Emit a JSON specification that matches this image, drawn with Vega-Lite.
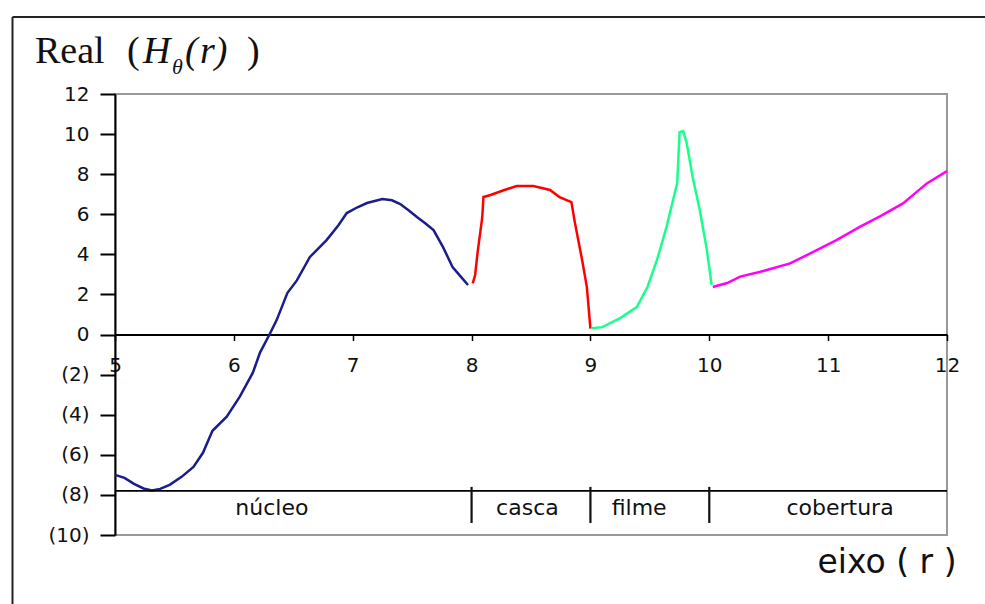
{
  "$schema": "https://vega.github.io/schema/vega-lite/v6.json",
  "width": 832,
  "height": 441,
  "autosize": {"type": "none"},
  "padding": {"left": 115, "top": 94, "right": 38, "bottom": 69},
  "background": "white",
  "config": {
    "view": {"stroke": "#999999", "strokeWidth": 2},
    "axis": {"grid": false, "title": null, "labelFont": "DejaVu Sans", "labelFontSize": 20, "labelColor": "#111111", "domainColor": "#000000", "tickColor": "#000000", "labelOverlap": false, "labelFlush": false}
  },
  "datasets": {
    "curve": [
      {"r": 5.00, "H": -7.00, "region": "núcleo"},
      {"r": 5.08, "H": -7.15, "region": "núcleo"},
      {"r": 5.16, "H": -7.45, "region": "núcleo"},
      {"r": 5.24, "H": -7.68, "region": "núcleo"},
      {"r": 5.31, "H": -7.78, "region": "núcleo"},
      {"r": 5.38, "H": -7.70, "region": "núcleo"},
      {"r": 5.46, "H": -7.50, "region": "núcleo"},
      {"r": 5.56, "H": -7.10, "region": "núcleo"},
      {"r": 5.66, "H": -6.60, "region": "núcleo"},
      {"r": 5.74, "H": -5.90, "region": "núcleo"},
      {"r": 5.82, "H": -4.80, "region": "núcleo"},
      {"r": 5.94, "H": -4.10, "region": "núcleo"},
      {"r": 6.05, "H": -3.10, "region": "núcleo"},
      {"r": 6.16, "H": -1.90, "region": "núcleo"},
      {"r": 6.22, "H": -0.90, "region": "núcleo"},
      {"r": 6.30, "H": 0.00, "region": "núcleo"},
      {"r": 6.36, "H": 0.72, "region": "núcleo"},
      {"r": 6.45, "H": 2.07, "region": "núcleo"},
      {"r": 6.53, "H": 2.70, "region": "núcleo"},
      {"r": 6.64, "H": 3.87, "region": "núcleo"},
      {"r": 6.78, "H": 4.71, "region": "núcleo"},
      {"r": 6.88, "H": 5.45, "region": "núcleo"},
      {"r": 6.95, "H": 6.06, "region": "núcleo"},
      {"r": 7.04, "H": 6.35, "region": "núcleo"},
      {"r": 7.12, "H": 6.56, "region": "núcleo"},
      {"r": 7.25, "H": 6.76, "region": "núcleo"},
      {"r": 7.33, "H": 6.70, "region": "núcleo"},
      {"r": 7.40, "H": 6.51, "region": "núcleo"},
      {"r": 7.47, "H": 6.20, "region": "núcleo"},
      {"r": 7.54, "H": 5.86, "region": "núcleo"},
      {"r": 7.61, "H": 5.55, "region": "núcleo"},
      {"r": 7.68, "H": 5.21, "region": "núcleo"},
      {"r": 7.76, "H": 4.36, "region": "núcleo"},
      {"r": 7.84, "H": 3.37, "region": "núcleo"},
      {"r": 7.90, "H": 2.95, "region": "núcleo"},
      {"r": 7.97, "H": 2.47, "region": "núcleo"},
      {"r": 8.01, "H": 2.55, "region": "casca"},
      {"r": 8.03, "H": 2.97, "region": "casca"},
      {"r": 8.05, "H": 4.06, "region": "casca"},
      {"r": 8.09, "H": 5.86, "region": "casca"},
      {"r": 8.10, "H": 6.86, "region": "casca"},
      {"r": 8.16, "H": 6.96, "region": "casca"},
      {"r": 8.27, "H": 7.20, "region": "casca"},
      {"r": 8.38, "H": 7.41, "region": "casca"},
      {"r": 8.52, "H": 7.41, "region": "casca"},
      {"r": 8.66, "H": 7.21, "region": "casca"},
      {"r": 8.74, "H": 6.86, "region": "casca"},
      {"r": 8.84, "H": 6.61, "region": "casca"},
      {"r": 8.87, "H": 5.56, "region": "casca"},
      {"r": 8.93, "H": 3.72, "region": "casca"},
      {"r": 8.97, "H": 2.37, "region": "casca"},
      {"r": 9.00, "H": 0.30, "region": "casca"},
      {"r": 9.01, "H": 0.32, "region": "filme"},
      {"r": 9.10, "H": 0.37, "region": "filme"},
      {"r": 9.25, "H": 0.82, "region": "filme"},
      {"r": 9.39, "H": 1.37, "region": "filme"},
      {"r": 9.48, "H": 2.37, "region": "filme"},
      {"r": 9.56, "H": 3.72, "region": "filme"},
      {"r": 9.64, "H": 5.36, "region": "filme"},
      {"r": 9.73, "H": 7.56, "region": "filme"},
      {"r": 9.75, "H": 10.10, "region": "filme"},
      {"r": 9.78, "H": 10.15, "region": "filme"},
      {"r": 9.81, "H": 9.55, "region": "filme"},
      {"r": 9.86, "H": 7.86, "region": "filme"},
      {"r": 9.92, "H": 6.21, "region": "filme"},
      {"r": 9.98, "H": 4.21, "region": "filme"},
      {"r": 10.02, "H": 2.47, "region": "filme"},
      {"r": 10.03, "H": 2.37, "region": "cobertura"},
      {"r": 10.15, "H": 2.57, "region": "cobertura"},
      {"r": 10.26, "H": 2.89, "region": "cobertura"},
      {"r": 10.43, "H": 3.13, "region": "cobertura"},
      {"r": 10.68, "H": 3.55, "region": "cobertura"},
      {"r": 10.85, "H": 4.05, "region": "cobertura"},
      {"r": 11.07, "H": 4.71, "region": "cobertura"},
      {"r": 11.27, "H": 5.38, "region": "cobertura"},
      {"r": 11.44, "H": 5.91, "region": "cobertura"},
      {"r": 11.63, "H": 6.54, "region": "cobertura"},
      {"r": 11.83, "H": 7.54, "region": "cobertura"},
      {"r": 12.00, "H": 8.15, "region": "cobertura"}
    ],
    "regions": [
      {"region": "núcleo", "r": 6.32},
      {"region": "casca", "r": 8.47},
      {"region": "filme", "r": 9.41},
      {"region": "cobertura", "r": 11.10}
    ],
    "seps": [{"r": 8}, {"r": 9}, {"r": 10}]
  },
  "layer": [
    {
      "data": {"name": "curve"},
      "mark": {"type": "line", "strokeWidth": 2.5},
      "encoding": {
        "x": {"field": "r", "type": "quantitative", "scale": {"domain": [5, 12], "nice": false, "zero": false},
          "axis": {"orient": "bottom", "offset": -200.5, "values": [5, 6, 7, 8, 9, 10, 11, 12], "format": "d", "domainWidth": 2, "tickSize": 6, "tickWidth": 1.5, "labelPadding": 15}},
        "y": {"field": "H", "type": "quantitative", "scale": {"domain": [-10, 12], "nice": false, "zero": false},
          "axis": {"values": [-10, -8, -6, -4, -2, 0, 2, 4, 6, 8, 10, 12], "domainWidth": 2, "tickSize": 15, "tickWidth": 2, "labelPadding": 11,
            "labelExpr": "datum.value < 0 ? '(' + format(-datum.value, 'd') + ')' : datum.label + '\u00a0'"}},
        "color": {"field": "region", "type": "nominal", "legend": null,
          "scale": {"domain": ["núcleo", "casca", "filme", "cobertura"], "range": ["#1c1c8a", "#ff0000", "#1aff8c", "#ff00ff"]}}
      }
    },
    {
      "data": {"values": [{}]},
      "mark": {"type": "rule", "color": "#000000", "strokeWidth": 1.8},
      "encoding": {"x": {"datum": 5}, "x2": {"datum": 12}, "y": {"datum": -7.8}}
    },
    {
      "data": {"name": "seps"},
      "mark": {"type": "rule", "color": "#111111", "strokeWidth": 2.2},
      "encoding": {"x": {"field": "r", "type": "quantitative"}, "y": {"datum": -7.6}, "y2": {"datum": -9.4}}
    },
    {
      "data": {"name": "regions"},
      "mark": {"type": "text", "font": "DejaVu Sans", "fontSize": 22, "color": "#111111", "baseline": "middle", "align": "center"},
      "encoding": {"x": {"field": "r", "type": "quantitative"}, "y": {"datum": -8.65}, "text": {"field": "region"}}
    },
    {
      "data": {"values": [{}]},
      "mark": {"type": "rule", "color": "#222222", "strokeWidth": 2},
      "encoding": {"x": {"datum": 4.1376}, "y": {"datum": 15.84}, "y2": {"datum": -13.6}}
    },
    {
      "data": {"values": [{}]},
      "mark": {"type": "rule", "color": "#222222", "strokeWidth": 2},
      "encoding": {"x": {"datum": 4.1376}, "x2": {"datum": 12.4}, "y": {"datum": 15.84}}
    },
    {
      "data": {"values": [{}]},
      "mark": {"type": "text", "font": "DejaVu Sans", "fontSize": 33, "color": "#111111", "align": "right", "baseline": "alphabetic"},
      "encoding": {"x": {"datum": 12.08}, "y": {"datum": -11.9}, "text": {"value": "eixo ( r )"}}
    },
    {
      "data": {"values": [{}]},
      "mark": {"type": "text", "font": "Liberation Serif", "fontSize": 38, "color": "#111111", "align": "left", "baseline": "alphabetic"},
      "encoding": {"x": {"datum": 4.327}, "y": {"datum": 13.54}, "text": {"value": "Real"}}
    },
    {
      "data": {"values": [{}]},
      "mark": {"type": "text", "font": "Liberation Serif", "fontSize": 38, "color": "#111111", "align": "left", "baseline": "alphabetic"},
      "encoding": {"x": {"datum": 5.10}, "y": {"datum": 13.54}, "text": {"value": "("}}
    },
    {
      "data": {"values": [{}]},
      "mark": {"type": "text", "font": "Liberation Serif", "fontSize": 38, "fontStyle": "italic", "color": "#111111", "align": "left", "baseline": "alphabetic"},
      "encoding": {"x": {"datum": 5.2356}, "y": {"datum": 13.54}, "text": {"value": "H"}}
    },
    {
      "data": {"values": [{}]},
      "mark": {"type": "text", "font": "Liberation Serif", "fontSize": 22, "fontStyle": "italic", "color": "#111111", "align": "left", "baseline": "alphabetic"},
      "encoding": {"x": {"datum": 5.4796}, "y": {"datum": 12.99}, "text": {"value": "θ"}}
    },
    {
      "data": {"values": [{}]},
      "mark": {"type": "text", "font": "Liberation Serif", "fontSize": 38, "fontStyle": "italic", "color": "#111111", "align": "left", "baseline": "alphabetic"},
      "encoding": {"x": {"datum": 5.589}, "y": {"datum": 13.54}, "text": {"value": "("}}
    },
    {
      "data": {"values": [{}]},
      "mark": {"type": "text", "font": "Liberation Serif", "fontSize": 38, "fontStyle": "italic", "color": "#111111", "align": "left", "baseline": "alphabetic"},
      "encoding": {"x": {"datum": 5.715}, "y": {"datum": 13.54}, "text": {"value": "r"}}
    },
    {
      "data": {"values": [{}]},
      "mark": {"type": "text", "font": "Liberation Serif", "fontSize": 38, "fontStyle": "italic", "color": "#111111", "align": "left", "baseline": "alphabetic"},
      "encoding": {"x": {"datum": 5.84}, "y": {"datum": 13.54}, "text": {"value": ")"}}
    },
    {
      "data": {"values": [{}]},
      "mark": {"type": "text", "font": "Liberation Serif", "fontSize": 38, "color": "#111111", "align": "left", "baseline": "alphabetic"},
      "encoding": {"x": {"datum": 6.111}, "y": {"datum": 13.54}, "text": {"value": ")"}}
    }
  ]
}
